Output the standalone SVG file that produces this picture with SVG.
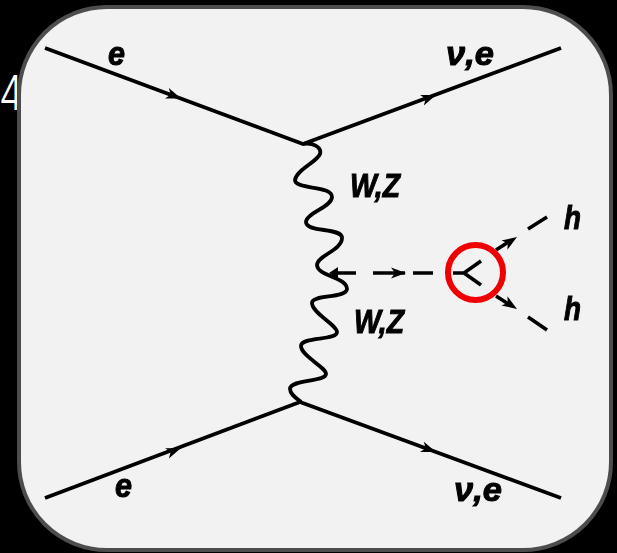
<svg xmlns="http://www.w3.org/2000/svg" width="617" height="553" viewBox="0 0 617 553">
<style>
.l{fill:none;stroke:#000;stroke-width:3.8;stroke-linecap:butt}
.d{fill:none;stroke:#000;stroke-width:3.6;stroke-linecap:butt}
.t{font-family:"Liberation Sans",Arial,sans-serif;font-weight:bold;font-style:italic;fill:#000;stroke:#000;stroke-width:1;font-size:33px}
.a{fill:#000}
</style>
<defs>
<filter id="soft" x="-5%" y="-5%" width="110%" height="110%"><feGaussianBlur stdDeviation="0.6"/></filter>
<path id="head" d="M0 0L-15 -5.500L-11 0L-15 5.500Z"/>
</defs>
<rect width="617" height="553" fill="#000"/>
<text transform="translate(-1,110) scale(.8,1)" font-family="Inter,sans-serif" font-weight="300" font-size="48" fill="#fff">4</text>
<g id="frame"><rect x="19" y="7" width="592" height="543" rx="88" ry="88" fill="#f2f2f2" stroke="#4d4d4d" stroke-width="4"/></g>
<g id="connectors" filter="url(#soft)">
<path class="l" d="M45 48L303 144L561 48"/>
<path class="l" d="M45 498L300 402L561 498"/>
<use href="#head" transform="translate(181 98.500) rotate(20.400)"/>
<use href="#head" transform="translate(436 95) rotate(-20.400)"/>
<use href="#head" transform="translate(181 448) rotate(-20.600)"/>
<use href="#head" transform="translate(436 452) rotate(20.200)"/>
<path class="l" d="M303 144C312 142 322 147 320 154C317 162 296 170 295 180C295 190 332 185 332 197C332 207 306 213 306 222C306 233 342 227 342 238C342 250 317 256 317 265C317 276 347 277 347 289C346 299 312 294 312 303C312 313 337 325 337 332C337 341 301 336 301 346C301 356 326 367 326 374C326 382 290 379 290 389C290 394 296 398 301 402"/>
<path class="d" d="M332 273H356M373 273H405M413 273H433"/>
<path class="a" d="M329 273L338 267V279Z"/>
<use href="#head" transform="translate(406 273)"/>
<path class="d" d="M453 273H464L481 261M464 273L481 285"/>
<path class="d" d="M496 250L510 241M528 229L547 217"/>
<path class="d" d="M496 296L510 305M528 317L547 330"/>
<use href="#head" transform="translate(517 237) rotate(-33)"/>
<use href="#head" transform="translate(517 309) rotate(33)"/>
</g>
<g id="labels" filter="url(#soft)">
<g id="label-e-top"><text class="t" x="108" y="65" textLength="17" lengthAdjust="spacingAndGlyphs">e</text></g>
<g id="label-ve-top"><text class="t" x="446" y="65" textLength="48" lengthAdjust="spacingAndGlyphs">ν,e</text></g>
<g id="label-e-bottom"><text class="t" x="115" y="497" textLength="17" lengthAdjust="spacingAndGlyphs">e</text></g>
<g id="label-ve-bottom"><text class="t" x="454" y="501" textLength="48" lengthAdjust="spacingAndGlyphs">ν,e</text></g>
<g id="label-wz-top"><text class="t" x="350" y="197" textLength="50" lengthAdjust="spacingAndGlyphs">W,Z</text></g>
<g id="label-wz-bottom"><text class="t" x="354" y="333" textLength="50" lengthAdjust="spacingAndGlyphs">W,Z</text></g>
<g id="label-h-top"><text class="t" x="564" y="229" textLength="17" lengthAdjust="spacingAndGlyphs">h</text></g>
<g id="label-h-bottom"><text class="t" x="564" y="320" textLength="17" lengthAdjust="spacingAndGlyphs">h</text></g>
</g>
<g id="highlight"><circle cx="475.500" cy="272.500" r="27.500" fill="none" stroke="#f00000" stroke-width="6"/></g>
</svg>
